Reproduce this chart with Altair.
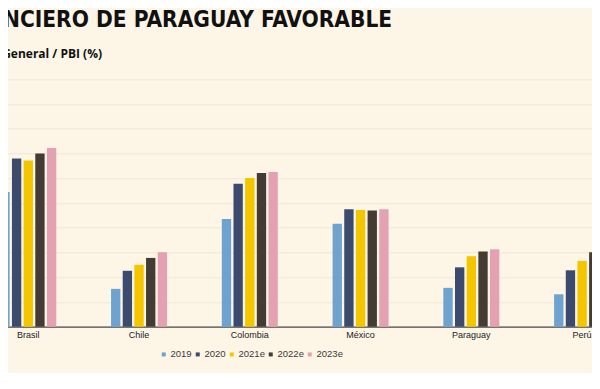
import altair as alt
import pandas as pd

countries = ["Brasil", "Chile", "Colombia", "México", "Paraguay", "Perú"]
years = ["2019", "2020", "2021e", "2022e", "2023e"]
brasil = [54.4, 68.0, 67.2, 70.0, 72.2]
chile = [15.3, 22.6, 25.0, 27.8, 30.1]
colombia = [43.5, 57.8, 60.1, 62.1, 62.5]
mexico = [41.6, 47.5, 47.2, 47.0, 47.5]
paraguay = [15.7, 24.0, 28.5, 30.4, 31.3]
peru = [13.1, 22.8, 26.6, 30.1, 31.5]
colors = ["#6FA3CF", "#3C4A6D", "#F3C600", "#443B34", "#E3A1B1"]

rows = []
for c, vals in zip(countries, [brasil, chile, colombia, mexico, paraguay, peru]):
    for y, v in zip(years, vals):
        rows.append({"pais": c, "anio": y, "valor": v})
df = pd.DataFrame(rows)

chart = alt.Chart(df).mark_bar().encode(
    x=alt.X(
        "pais:N", sort=countries,
        scale=alt.Scale(range=[-35.1, 629.5], paddingInner=0.4733, paddingOuter=0.23665),
        axis=alt.Axis(title=None, labelAngle=0, ticks=False, domainColor="#4a4a4a",
                      domainWidth=1.3, labelFont="Liberation Sans", labelFontSize=9,
                      labelColor="#222222", labelPadding=4, grid=False),
    ),
    xOffset=alt.XOffset("anio:N", sort=years,
                        scale=alt.Scale(paddingInner=0.2, paddingOuter=0.1)),
    y=alt.Y(
        "valor:Q",
        scale=alt.Scale(domain=[0, 100], nice=False),
        axis=alt.Axis(values=list(range(0, 101, 10)), labels=False, ticks=False,
                      domain=False, gridColor="#F0E7D5", gridWidth=1,
                      title="Deuda del Gobierno General / PBI (%)", titleAngle=0,
                      titleAlign="left", titleBaseline="alphabetic",
                      titleX=-128, titleY=-21.6, titleFont="Open Sans",
                      titleFontSize=12, titleFontWeight="bold", titleColor="#111111"),
    ),
    color=alt.Color(
        "anio:N", sort=years,
        scale=alt.Scale(domain=years, range=colors),
        legend=alt.Legend(title=None, orient="none", direction="horizontal", columns=5,
                          legendX=151, legendY=270, symbolType="square", symbolSize=16,
                          symbolStrokeWidth=0, labelFont="Liberation Sans",
                          labelFontSize=9.5, labelColor="#3a3a3a", labelOffset=2,
                          columnPadding=1, padding=0),
    ),
).properties(
    width=584,
    height=247.4,
    background="#FDF6E7",
    padding={"left": 0, "top": 71.3, "right": 0, "bottom": 46.3},
    autosize=alt.AutoSizeParams(type="none"),
    title=alt.TitleParams(
        text="PANORAMA FINANCIERO DE PARAGUAY FAVORABLE",
        anchor="start", frame="group", dx=-195.7, offset=-1.5,
        font="DejaVu Sans Condensed", fontSize=22.5, fontWeight="bold",
        color="#111111", baseline="alphabetic",
    ),
).configure_view(stroke=None)

chart.save("out.html", embed_options={"renderer": "svg", "actions": False})
